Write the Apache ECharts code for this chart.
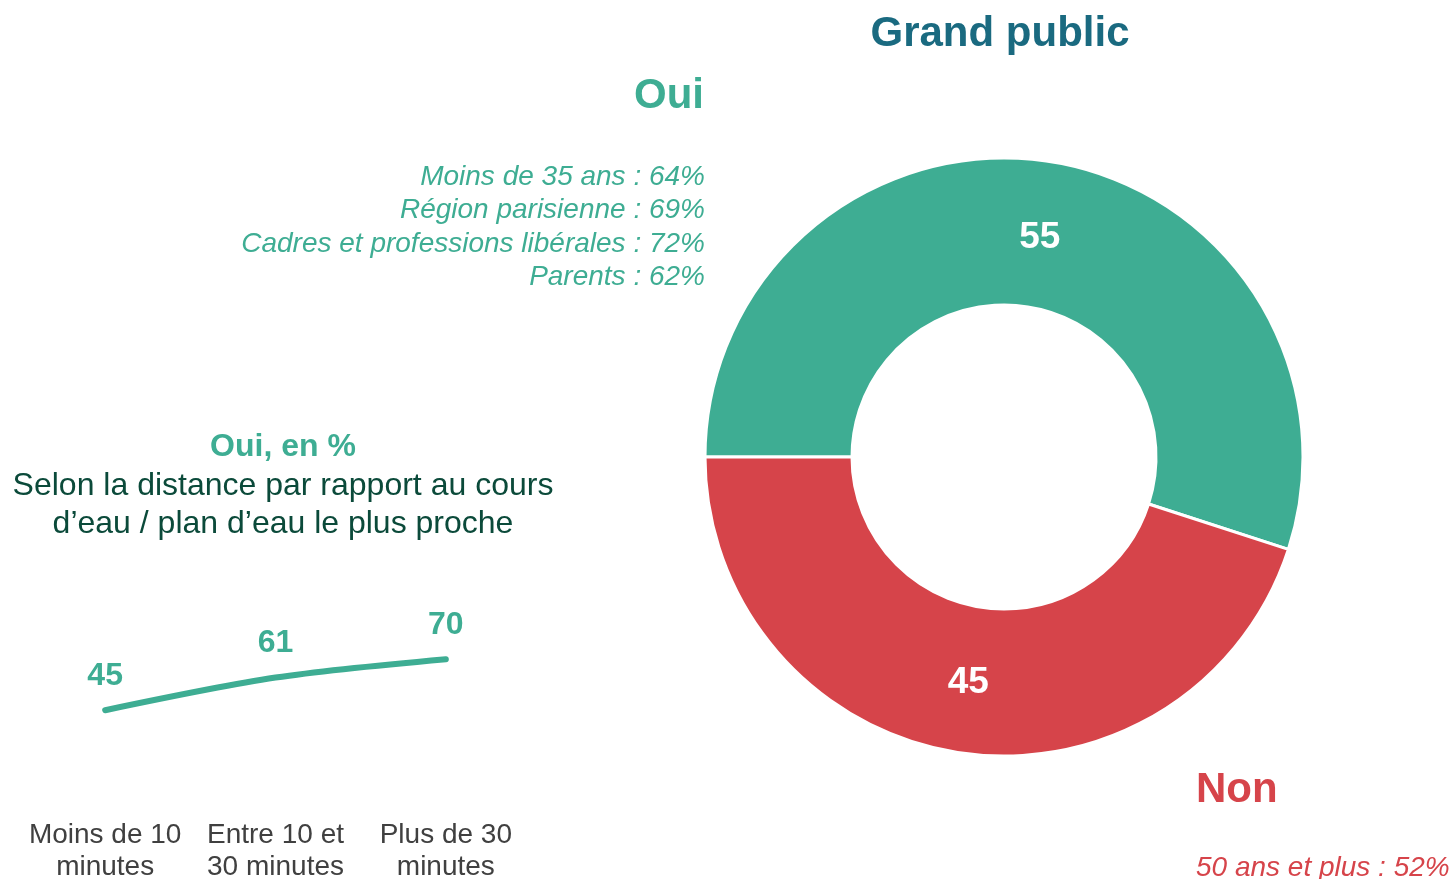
<!DOCTYPE html>
<html>
<head>
<meta charset="utf-8">
<script src="https://cdn.jsdelivr.net/npm/echarts@6/dist/echarts.min.js"></script>
<style>
    html, body { margin: 0; padding: 0; background: #fff; }
    #chart { width: 1453px; height: 879px; }
</style>
</head>
<body>
<div id="chart"></div>
<script>
var pieNames = ['Oui', 'Non'];
var pieValues = [55, 45];
var distanceCats = ['Moins de 10\nminutes', 'Entre 10 et\n30 minutes', 'Plus de 30\nminutes'];
var distanceValues = [45, 61, 70];
var ouiDetails = ['Moins de 35 ans : 64%', 'Région parisienne : 69%', 'Cadres et professions libérales : 72%', 'Parents : 62%'];
var nonDetails = ['50 ans et plus : 52%'];

var green = '#3EAD93';
var red = '#D6444A';
var font = '"Liberation Sans", Arial, sans-serif';

var myChart = echarts.init(document.getElementById('chart'));

// textes libres
var texts = [];
function txt(x, y, s, size, color, align, weight, style) {
    texts.push({
        type: 'text', x: x, y: y + 2, silent: true,
        style: {
            text: s, fontFamily: font, fontSize: size, fill: color,
            align: align, verticalAlign: 'middle',
            fontWeight: weight || 'normal', fontStyle: style || 'normal'
        }
    });
}
txt(1000, 32, 'Grand public', 42, '#1A6A80', 'center', 'bold');
txt(704, 94, pieNames[0], 42, green, 'right', 'bold');
for (var i = 0; i < ouiDetails.length; i++) {
    txt(705, 175 + i * 33.5, ouiDetails[i], 28, green, 'right', 'normal', 'italic');
}
txt(1196, 788, pieNames[1], 42, red, 'left', 'bold');
for (var j = 0; j < nonDetails.length; j++) {
    txt(1196, 866 + j * 33.5, nonDetails[j], 28, red, 'left', 'normal', 'italic');
}
txt(283, 445, 'Oui, en %', 32, green, 'center', 'bold');
txt(283, 484, 'Selon la distance par rapport au cours', 32, '#0B4A3A', 'center');
txt(283, 522, 'd’eau / plan d’eau le plus proche', 32, '#0B4A3A', 'center');

var options = {
    backgroundColor: '#fff',
    animation: false,
    graphic: texts,
    grid: {
        left: 20,
        top: 598,
        width: 511,
        height: 204,
        outerBoundsMode: 'none'
    },
    xAxis: {
        type: 'category',
        data: distanceCats,
        boundaryGap: true,
        axisLine: { show: false },
        axisTick: { show: false },
        axisLabel: {
            margin: 17,
            fontFamily: font,
            fontSize: 28,
            lineHeight: 32,
            color: '#404040',
            interval: 0
        }
    },
    yAxis: {
        type: 'value',
        min: 0,
        max: 100,
        show: false
    },
    series: [{
        type: 'line',
        data: distanceValues,
        smooth: 0.3,
        symbol: 'circle',
        symbolSize: 2,
        showSymbol: true,
        itemStyle: { color: 'rgba(0,0,0,0)', borderWidth: 0 },
        lineStyle: { color: green, width: 6, cap: 'round' },
        label: {
            show: true,
            position: 'top',
            distance: 17,
            fontFamily: font,
            fontSize: 32,
            fontWeight: 'bold',
            color: green
        }
    }, {
        type: 'pie',
        center: [1004, 457],
        radius: [152, 299],
        startAngle: 180,
        clockwise: true,
        data: [
            { name: pieNames[0], value: pieValues[0], itemStyle: { color: green }, label: { offset: [0, 6] } },
            { name: pieNames[1], value: pieValues[1], itemStyle: { color: red } }
        ],
        itemStyle: { borderColor: '#fff', borderWidth: 3 },
        label: {
            show: true,
            position: 'inside',
            formatter: '{c}',
            fontFamily: font,
            fontSize: 37,
            fontWeight: 'bold',
            color: '#fff'
        },
        labelLine: { show: false },
        emphasis: { disabled: true }
    }]
};

myChart.setOption(options);
</script>
</body>
</html>
